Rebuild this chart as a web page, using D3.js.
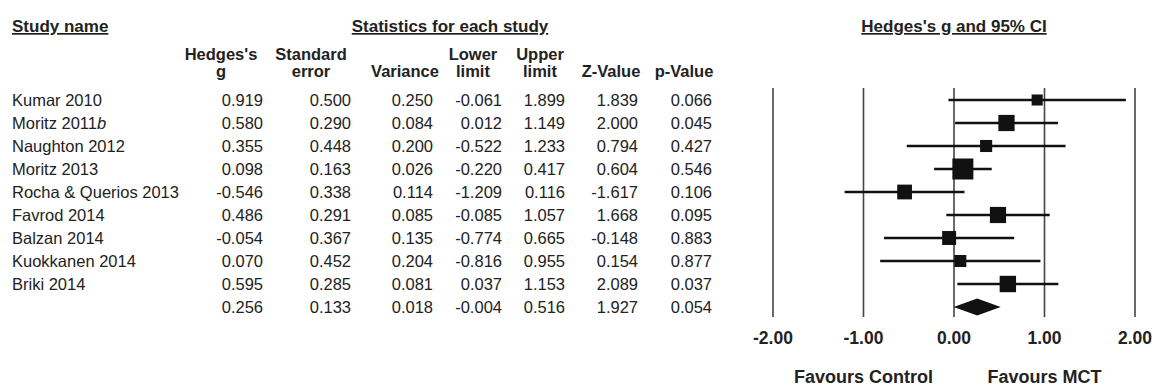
<!DOCTYPE html>
<html>
<head>
<meta charset="utf-8">
<script src="https://cdn.jsdelivr.net/npm/d3@7"></script>
<style>
    body { margin: 0; background: #fff; }
    text { font-family: "Liberation Sans", Arial, sans-serif; fill: #222; }
</style>
</head>
<body>
<script>
// The study table, one array per column.
var studies = ["Kumar 2010", "Moritz 2011b", "Naughton 2012", "Moritz 2013",
    "Rocha & Querios 2013", "Favrod 2014", "Balzan 2014", "Kuokkanen 2014", "Briki 2014"];
var hedges_g = [0.919, 0.580, 0.355, 0.098, -0.546, 0.486, -0.054, 0.070, 0.595];
var std_error = [0.500, 0.290, 0.448, 0.163, 0.338, 0.291, 0.367, 0.452, 0.285];
var variance = [0.250, 0.084, 0.200, 0.026, 0.114, 0.085, 0.135, 0.204, 0.081];
var lower_limit = [-0.061, 0.012, -0.522, -0.220, -1.209, -0.085, -0.774, -0.816, 0.037];
var upper_limit = [1.899, 1.149, 1.233, 0.417, 0.116, 1.057, 0.665, 0.955, 1.153];
var z_value = [1.839, 2.000, 0.794, 0.604, -1.617, 1.668, -0.148, 0.154, 2.089];
var p_value = [0.066, 0.045, 0.427, 0.546, 0.106, 0.095, 0.883, 0.877, 0.037];

// The pooled (random effects) row at the bottom.
var summary = [0.256, 0.133, 0.018, -0.004, 0.516, 1.927, 0.054];
// Between-study variance, used for the square weights.
var tau2 = 0.06;

var x_ticks = [-2, -1, 0, 1, 2];

var svg_width = 1152;
var svg_height = 386;

var svg = d3.select("body")
    .append("svg")
    .attr("width", svg_width)
    .attr("height", svg_height);

// Rows: nine studies plus the summary line.
var row_keys = d3.range(studies.length + 1);
var y_row = d3.scalePoint()
    .domain(row_keys)
    .range([100, 307]);

// Forest plot scale.
var x_axis = d3.scaleLinear()
    .domain([-2, 2])
    .range([773, 1135]);

// Square size grows with the random effects weight.
var weights = variance.map(function (v) { return 1 / (v + tau2); });
var box_size = d3.scaleSqrt()
    .domain([0, d3.max(weights)])
    .range([0, 21]);

// Headings, underlined.
function heading(x, y, anchor, label) {
    svg.append("text")
        .attr("x", x)
        .attr("y", y)
        .attr("text-anchor", anchor)
        .attr("font-size", "17px")
        .attr("font-weight", "bold")
        .style("text-decoration", "underline")
        .text(label);
}
heading(12, 32, "start", "Study name");
heading(450, 32, "middle", "Statistics for each study");
heading(954, 32, "middle", "Hedges's g and 95% CI");

// Columns of the table: header lines, right edge and values.
var columns = [
    { head: ["Hedges's", "g"], center: 221, right: 263, values: hedges_g },
    { head: ["Standard", "error"], center: 311, right: 351, values: std_error },
    { head: ["", "Variance"], center: 405, right: 433, values: variance },
    { head: ["Lower", "limit"], center: 473, right: 502, values: lower_limit },
    { head: ["Upper", "limit"], center: 540, right: 565, values: upper_limit },
    { head: ["", "Z-Value"], center: 611, right: 638, values: z_value },
    { head: ["", "p-Value"], center: 684, right: 712, values: p_value }
];

columns.forEach(function (col, ci) {
    col.head.forEach(function (line, li) {
        svg.append("text")
            .attr("x", col.center)
            .attr("y", li === 0 ? 60 : 77)
            .attr("text-anchor", "middle")
            .attr("font-size", "16.5px")
            .attr("font-weight", "bold")
            .text(line);
    });
    var vals = col.values.concat([summary[ci]]);
    svg.append("g")
        .selectAll("text")
        .data(vals)
        .enter()
        .append("text")
        .attr("x", col.right)
        .attr("y", function (d, i) { return y_row(i) + 6; })
        .attr("text-anchor", "end")
        .attr("font-size", "16.5px")
        .text(function (d) { return d3.format(".3f")(d).replace("−", "-"); });
});

// Study names, with the italic "b" on Moritz 2011b.
svg.append("g")
    .selectAll("text")
    .data(studies)
    .enter()
    .append("text")
    .attr("x", 12)
    .attr("y", function (d, i) { return y_row(i) + 6; })
    .attr("font-size", "16.5px")
    .each(function (d) {
        var t = d3.select(this);
        var m = d.match(/^(.*\d)([a-z])$/);
        if (m) {
            t.append("tspan").text(m[1]);
            t.append("tspan").attr("font-style", "italic").text(m[2]);
        } else {
            t.text(d);
        }
    });

// Vertical reference lines at each tick.
svg.append("g")
    .selectAll("line")
    .data(x_ticks)
    .enter()
    .append("line")
    .attr("x1", function (d) { return x_axis(d); })
    .attr("x2", function (d) { return x_axis(d); })
    .attr("y1", 88)
    .attr("y2", 317)
    .attr("stroke", "#444")
    .attr("stroke-width", 1.6);

// Confidence interval lines.
svg.append("g")
    .selectAll("line")
    .data(studies)
    .enter()
    .append("line")
    .attr("x1", function (d, i) { return x_axis(lower_limit[i]); })
    .attr("x2", function (d, i) { return x_axis(upper_limit[i]); })
    .attr("y1", function (d, i) { return y_row(i); })
    .attr("y2", function (d, i) { return y_row(i); })
    .attr("stroke", "#111")
    .attr("stroke-width", 2.6);

// Point estimates as weighted squares.
svg.append("g")
    .selectAll("rect")
    .data(studies)
    .enter()
    .append("rect")
    .attr("x", function (d, i) { return x_axis(hedges_g[i]) - box_size(weights[i]) / 2; })
    .attr("y", function (d, i) { return y_row(i) - box_size(weights[i]) / 2; })
    .attr("width", function (d, i) { return box_size(weights[i]); })
    .attr("height", function (d, i) { return box_size(weights[i]); })
    .attr("fill", "#111");

// Summary diamond.
var sy = y_row(studies.length);
svg.append("path")
    .attr("d", "M" + x_axis(summary[3]) + "," + sy +
        "L" + x_axis(summary[0]) + "," + (sy - 8.5) +
        "L" + x_axis(summary[4]) + "," + sy +
        "L" + x_axis(summary[0]) + "," + (sy + 8.5) + "Z")
    .attr("fill", "#111");

// Tick labels under the plot.
svg.append("g")
    .selectAll("text")
    .data(x_ticks)
    .enter()
    .append("text")
    .attr("x", function (d) { return x_axis(d); })
    .attr("y", 344)
    .attr("text-anchor", "middle")
    .attr("font-size", "17.5px")
    .attr("font-weight", "bold")
    .text(function (d) { return d3.format(".2f")(d).replace("−", "-"); });

// Favours labels.
svg.append("text")
    .attr("x", x_axis(-1))
    .attr("y", 383)
    .attr("text-anchor", "middle")
    .attr("font-size", "18px")
    .attr("font-weight", "bold")
    .text("Favours Control");
svg.append("text")
    .attr("x", x_axis(1))
    .attr("y", 383)
    .attr("text-anchor", "middle")
    .attr("font-size", "18px")
    .attr("font-weight", "bold")
    .text("Favours MCT");
</script>
</body>
</html>
